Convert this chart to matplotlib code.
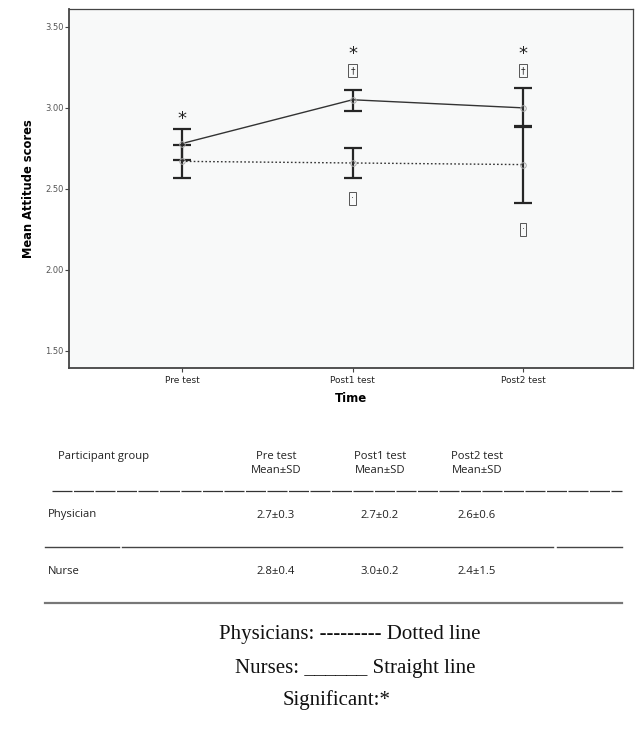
import matplotlib
matplotlib.use("Agg")
import matplotlib.pyplot as plt
from matplotlib.lines import Line2D
import numpy as np

# Data
time_labels = ["Pre test", "Post1 test", "Post2 test"]

nurse_mean = [2.78, 3.05, 3.00]
nurse_lo = [2.68, 2.98, 2.88]
nurse_hi = [2.87, 3.11, 3.12]

phys_mean = [2.67, 2.66, 2.65]
phys_lo = [2.57, 2.57, 2.41]
phys_hi = [2.77, 2.75, 2.89]

# table below the chart
table_header = ["Participant group", "Pre test\nMean\u00b1SD", "Post1 test\nMean\u00b1SD", "Post2 test\nMean\u00b1SD"]
table_groups = ["Physician", "Nurse"]
table_cells = [["2.7\u00b10.3", "2.7\u00b10.2", "2.6\u00b10.6"],
               ["2.8\u00b10.4", "3.0\u00b10.2", "2.4\u00b11.5"]]

notes = ["Physicians: --------- Dotted line",
         "Nurses: ______ Straight line",
         "Significant:*"]

W, H = 635, 745


def fx(px):
    return px / W


def fy(py):
    return 1 - py / H


fig = plt.figure(figsize=(6.35, 7.45), dpi=100)
fig.patch.set_facecolor("white")

ax = fig.add_axes([fx(69), fy(368), fx(633 - 69), (368 - 9) / H])
ax.set_facecolor("#f8f9f9")

x = np.arange(len(time_labels))

# error bars
for mean, lo, hi in [(nurse_mean, nurse_lo, nurse_hi), (phys_mean, phys_lo, phys_hi)]:
    mean = np.array(mean)
    yerr = [mean - np.array(lo), np.array(hi) - mean]
    ax.errorbar(x, mean, yerr=yerr, fmt="none", ecolor="#262626",
                elinewidth=1.6, capsize=6.5, capthick=1.6, zorder=2)

ax.plot(x, nurse_mean, color="#333333", lw=1.0, ls="-", zorder=3)
ax.plot(x, phys_mean, color="#333333", lw=1.0, ls=(0, (1.2, 1.6)), zorder=3)
ax.plot(x, nurse_mean, ls="none", marker="o", ms=4, mfc="none", mec="#aaaaaa", mew=0.7, zorder=4)
ax.plot(x, phys_mean, ls="none", marker="o", ms=4, mfc="none", mec="#aaaaaa", mew=0.7, zorder=4)

# significance stars and boxed markers
star_y = [2.93, 3.33, 3.33]
for xi, sy in zip(x, star_y):
    ax.text(xi, sy, "*", ha="center", va="center", fontsize=13, color="#222222")
box = dict(boxstyle="square,pad=0.2", fc="none", ec="#555555", lw=0.7)
for xi, yy, s in [(1, 3.23, "\u2020"), (2, 3.23, "\u2020"), (1, 2.44, "\u00b7"), (2, 2.25, "\u00b7")]:
    ax.text(xi, yy, s, ha="center", va="center", fontsize=6.5, color="#222222", bbox=box)

ax.set_xlim(-0.663, 2.645)
ax.set_ylim(1.395, 3.61)
ax.set_yticks([1.5, 2.0, 2.5, 3.0, 3.5])
ax.set_yticklabels(["%.2f" % v for v in [1.5, 2.0, 2.5, 3.0, 3.5]])
ax.set_xticks(x)
ax.set_xticklabels(time_labels)
ax.tick_params(axis="y", labelsize=6, labelcolor="#555555", length=3, width=0.8, color="#444444", pad=1)
ax.tick_params(axis="x", labelsize=6.5, labelcolor="#222222", length=3, width=0.8, color="#444444", pad=3)
for s in ax.spines.values():
    s.set_color("#444444")
    s.set_linewidth(0.9)
ax.spines["bottom"].set_linewidth(1.3)
ax.spines["left"].set_linewidth(1.3)

ax.set_xlabel("Time", fontsize=8.5, fontweight="bold", labelpad=5)
ax.set_ylabel("Mean Attitude scores", fontsize=8.3, fontweight="bold", labelpad=7)

# table
tfont = dict(family="Open Sans", fontsize=8.1, color="#222222")
fig.text(fx(58), fy(456), table_header[0], ha="left", va="center", **tfont)
col_x = [276, 380, 477]
for cx, h in zip(col_x, table_header[1:]):
    fig.text(fx(cx), fy(463.5), h, ha="center", va="center", linespacing=1.45, **tfont)
row_y = [515, 571]
for ry, g, cells in zip(row_y, table_groups, table_cells):
    fig.text(fx(48), fy(ry), g, ha="left", va="center", **tfont)
    for cx, c in zip(col_x, cells):
        fig.text(fx(cx), fy(ry), c, ha="center", va="center", **tfont)

fig.add_artist(Line2D([fx(52), fx(622)], [fy(491), fy(491)], color="#333333", lw=0.9,
                      ls=(0, (16, 1.2))))
for a, b in [(45, 119), (122, 553), (557, 622)]:
    fig.add_artist(Line2D([fx(a), fx(b)], [fy(547), fy(547)], color="#444444", lw=1.0))
fig.add_artist(Line2D([fx(45), fx(622)], [fy(603), fy(603)], color="#777777", lw=1.6))

# notes
nfont = dict(family="Liberation Serif", fontsize=15, color="#111111")
for ny, cx, t in zip([635, 669, 700], [350, 355, 337], notes):
    fig.text(fx(cx), fy(ny), t, ha="center", va="center", **nfont)

fig.savefig("out.png", dpi=100)
